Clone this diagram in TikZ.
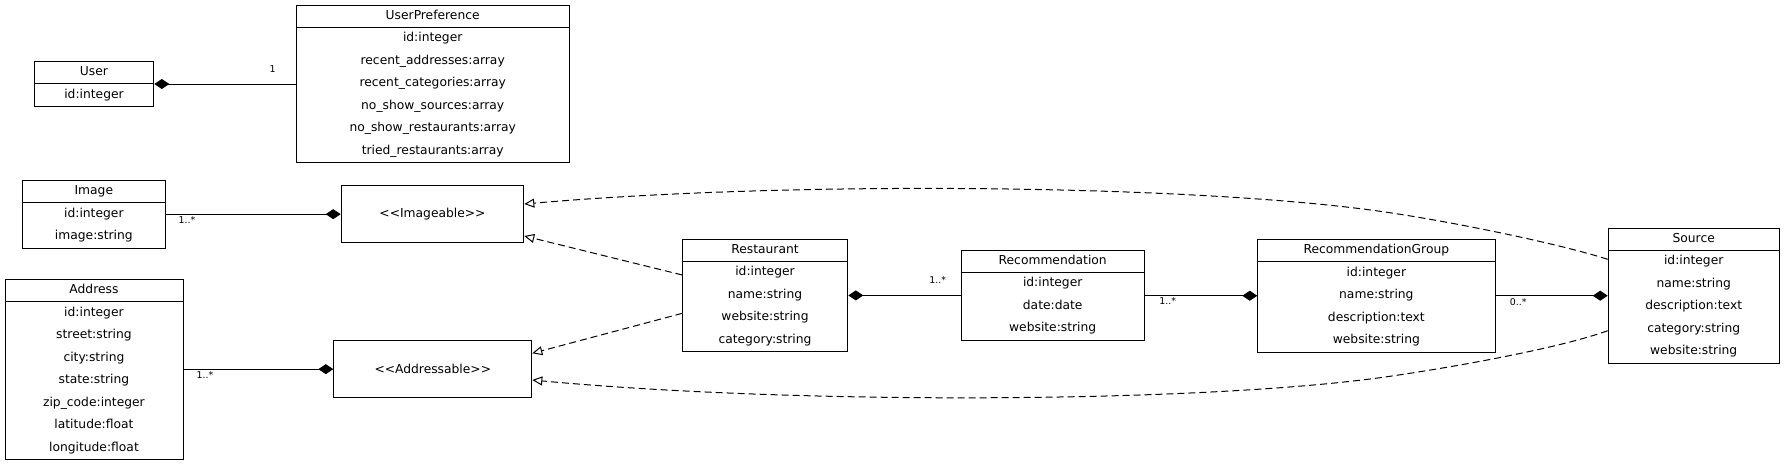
\documentclass[tikz,border=0pt]{standalone}
\usepackage{fontspec}
\setmainfont{DejaVu Sans}
\usetikzlibrary{arrows.meta,calc}
\tikzset{
 classbox/.style={draw=black, line width=1pt, inner sep=0pt, rectangle, anchor=north west},
 rowtxt/.style={inner sep=0pt, minimum height=22.5pt, text height=9pt, text depth=2.6pt, anchor=north west, font=\fontsize{12.3}{14}\selectfont},
 divider/.style={draw=black, line width=1pt},
 iface/.style={draw=black, line width=1pt, inner sep=0pt, anchor=north west, font=\fontsize{12.3}{14}\selectfont},
 comp/.style={line width=1pt, {Diamond[length=15pt,width=10pt]}-},
 real/.style={line width=1pt, dash pattern=on 7pt off 4pt, -{Triangle[open,length=10pt,width=9pt]}},
 mult/.style={font=\fontsize{9.4}{11}\selectfont, inner sep=0pt},
}
% #1 name, #2 left x, #3 top y, #4 width, #5 number of rows, #6 title, #7 rows
\newcommand{\umlclass}[7]{%
  \node[classbox, minimum width=#4, minimum height={22.5*(#5+1)}] (#1) at (#2,#3) {};
  \node[rowtxt, minimum width=#4] (#1-h) at (#2,#3) {#6};
  \draw[divider] (#1-h.south west) -- (#1-h.south east);
  \foreach \t [count=\i] in {#7} {
    \node[rowtxt, minimum width=#4] (#1-\i) at (#2,{#3+22.5*\i}) {\t};
  }
}
\begin{document}
\begin{tikzpicture}[x=1pt,y=-1pt]
\useasboundingbox (0,0) rectangle (1785,464);

\umlclass{User}{34.3}{61}{119}{1}{User}{id:integer}
\umlclass{UP}{295.7}{4.7}{273.6}{6}{UserPreference}{id:integer,recent\_addresses:array,recent\_categories:array,no\_show\_sources:array,no\_show\_restaurants:array,tried\_restaurants:array}
\umlclass{Image}{22.3}{180}{142.7}{2}{Image}{id:integer,image:string}
\umlclass{Address}{5}{279}{177.5}{7}{Address}{id:integer,street:string,city:string,state:string,zip\_code:integer,latitude:float,longitude:float}
\umlclass{Restaurant}{682.3}{238.7}{165}{4}{Restaurant}{id:integer,name:string,website:string,category:string}
\umlclass{Recommendation}{960.7}{249.7}{183.6}{3}{Recommendation}{id:integer,date:date,website:string}
\umlclass{RecGroup}{1257.3}{239}{237.7}{4}{RecommendationGroup}{id:integer,name:string,description:text,website:string}
\umlclass{Source}{1607.7}{227.7}{171.6}{5}{Source}{id:integer,name:string,description:text,category:string,website:string}

\node[iface, minimum width=182.6pt, minimum height=57.3pt] (Imageable) at (340.7,185) {<{}<Imageable>{}>};
\node[iface, minimum width=198pt, minimum height=57.3pt] (Addressable) at (333.3,340) {<{}<Addressable>{}>};

% compositions
\draw[comp] (User.east) -- (User.east -| UP.west);
\draw[comp] (Imageable.west) -- (Imageable.west -| Image.east);
\draw[comp] (Addressable.west) -- (Addressable.west -| Address.east);
\draw[comp] (Restaurant.east) -- (Restaurant.east -| Recommendation.west);
\draw[comp] (RecGroup.west) -- (RecGroup.west -| Recommendation.east);
\draw[comp] (Source.west) -- (Source.west -| RecGroup.east);

% multiplicities
\node[mult] (m1) at (272.7,69.3) {1};
\node[mult] (m2) at (187,220) {1..*};
\node[mult] (m3) at (205,375) {1..*};
\node[mult] (m4) at (937.7,280) {1..*};
\node[mult] (m5) at (1167.7,301) {1..*};
\node[mult] (m6) at (1518.3,301.7) {0..*};

% realizations
\draw[real] ($(Restaurant.north west)+(0,36.3)$) -- ($(Imageable.north east)+(0,51)$);
\draw[real] ($(Restaurant.north west)+(0,74.6)$) -- ($(Addressable.north east)+(0,13.3)$);
\draw[real] ($(Source.north west)+(0,31.6)$) .. controls (1560,244) and (1455,222.2) .. (1385,212)
   .. controls (1200,185) and (800,180) .. ($(Imageable.north east)+(0,19)$);
\draw[real] ($(Source.north west)+(0,103)$) .. controls (1560,348) and (1455,367) .. (1385,377)
   .. controls (1200,403) and (800,405) .. ($(Addressable.north east)+(0,40)$);
\end{tikzpicture}
\end{document}
